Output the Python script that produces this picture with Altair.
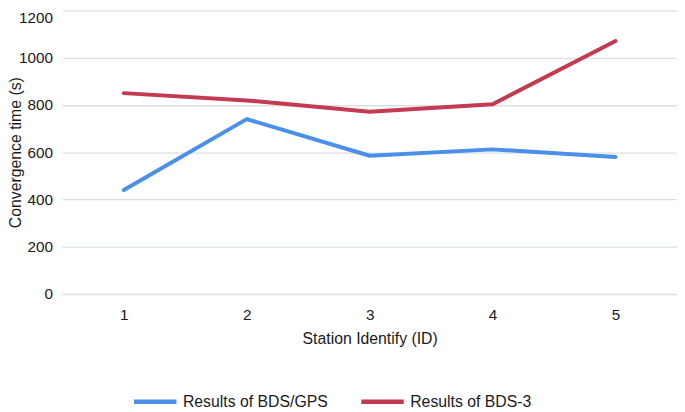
import altair as alt
import pandas as pd

stations = ["1", "2", "3", "4", "5"]
bds_gps = [440, 740, 585, 612, 580]
bds3 = [850, 819, 771, 803, 1070]
series_names = ["Results of BDS/GPS", "Results of BDS-3"]
colors = ["#4a8fe8", "#c43a52"]
y_ticks = [0, 200, 400, 600, 800, 1000, 1200]

rows = []
for s, a, b in zip(stations, bds_gps, bds3):
    rows.append({"station": s, "series": series_names[0], "value": a})
    rows.append({"station": s, "series": series_names[1], "value": b})
df = pd.DataFrame(rows)

FONT = "Liberation Sans"

chart = alt.Chart(df).mark_line(
    strokeWidth=4, strokeCap="round", strokeJoin="round"
).encode(
    x=alt.X(
        "station:N",
        sort=stations,
        scale=alt.Scale(type="point", padding=0.5),
        axis=alt.Axis(
            title="Station Identify (ID)",
            labelAngle=0,
            ticks=False,
            tickSize=0,
            domain=False,
            grid=False,
            labelPadding=26,
            labelBaseline="alphabetic",
            labelFontSize=15.5,
            labelColor="#1a1a1a",
            labelFont=FONT,
            titleFont=FONT,
            titleFontSize=16,
            titleFontWeight="normal",
            titleColor="#1a1a1a",
            titleBaseline="alphabetic",
            titleY=50,
        ),
    ),
    y=alt.Y(
        "value:Q",
        scale=alt.Scale(domain=[0, 1200], nice=False),
        axis=alt.Axis(
            title="Convergence time (s)",
            values=y_ticks,
            format="d",
            ticks=False,
            tickSize=0,
            domain=False,
            gridColor="#d9e1de",
            gridWidth=1.3,
            labelPadding=10,
            labelFontSize=15.5,
            labelColor="#1a1a1a",
            labelFont=FONT,
            labelBaseline=alt.condition(
                "datum.value == 1200", alt.value("top"), alt.value("middle")
            ),
            titleFont=FONT,
            titleFontSize=16,
            titleFontWeight="normal",
            titleColor="#1a1a1a",
            titleBaseline="alphabetic",
            titleX=-42,
        ),
    ),
    color=alt.Color(
        "series:N",
        scale=alt.Scale(domain=series_names, range=colors),
        legend=alt.Legend(
            title=None,
            orient="none",
            direction="horizontal",
            columns=2,
            legendX=70,
            legendY=372,
            padding=0,
            symbolType="stroke",
            symbolSize=1849,
            symbolStrokeWidth=4.5,
            labelOffset=4,
            columnPadding=24,
            labelFontSize=16,
            labelFont=FONT,
            labelColor="#1a1a1a",
        ),
    ),
).properties(
    width=622,
    height=287,
    padding={"left": 55, "top": 0, "right": 0, "bottom": 117},
    autosize=alt.AutoSizeParams(type="none"),
).configure_view(stroke=None)

chart.save("out.html", embed_options={"renderer": "svg", "actions": False})
